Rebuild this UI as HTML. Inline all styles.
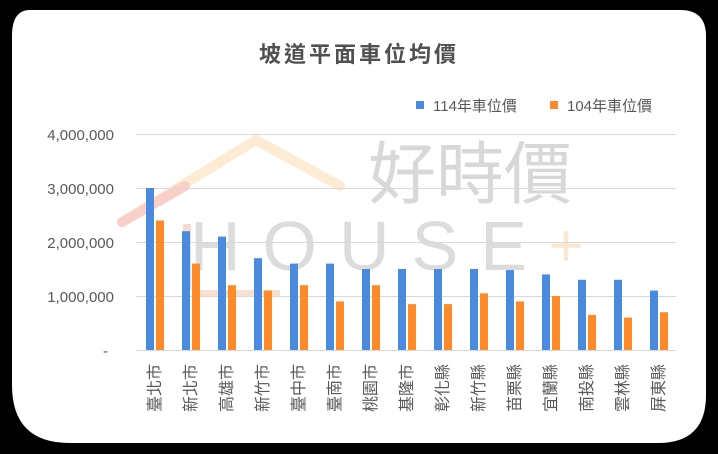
<!DOCTYPE html>
<html><head><meta charset="utf-8"><style>
html,body{margin:0;padding:0;background:#000;width:718px;height:454px;overflow:hidden}
svg text{font-family:"Liberation Sans","Noto Sans CJK TC",sans-serif}
</style></head><body>
<svg width="718" height="454" xmlns="http://www.w3.org/2000/svg">
<rect x="0" y="0" width="718" height="454" fill="#000"/>
<path d="M30,10 H680 Q706,10 706,36 V395 Q706,443 658,443 H70 Q12,443 12,385 V36 Q12,10 30,10 Z" fill="#fff"/>
<polyline points="122,222 256,140 340,186" fill="none" stroke="#fde6c8" stroke-width="10" stroke-linecap="round" opacity="0.8"/>
<line x1="122" y1="222" x2="185" y2="186" stroke="#f9d0c8" stroke-width="10" stroke-linecap="round"/>
<line x1="187" y1="224" x2="187" y2="290" stroke="#f9d8d0" stroke-width="8"/>
<line x1="195" y1="293" x2="280" y2="293" stroke="#f9e0d0" stroke-width="6"/>
<text x="470" y="198" font-size="68" fill="#d8d8d8" text-anchor="middle">好時價</text>
<text x="190" y="270" font-size="70" fill="#dcdcdc" letter-spacing="22">HOUSE</text>
<text x="566" y="266" font-size="60" fill="#fbe6cf" text-anchor="middle">+</text>
<text x="359" y="62" font-size="22" fill="#505050" text-anchor="middle" letter-spacing="3" font-weight="bold">坡道平面車位均價</text>
<rect x="416" y="101" width="8" height="8" fill="#4a8be0"/>
<text x="433" y="111" font-size="15" fill="#595959">114年車位價</text>
<rect x="550" y="101" width="8" height="8" fill="#fd8b2a"/>
<text x="567" y="111" font-size="15" fill="#595959">104年車位價</text>
<g stroke="#d9d9d9" stroke-width="1">
<line x1="136" y1="134.5" x2="676" y2="134.5"/>
<line x1="136" y1="188.5" x2="676" y2="188.5"/>
<line x1="136" y1="242.5" x2="676" y2="242.5"/>
<line x1="136" y1="296.5" x2="676" y2="296.5"/>
<line x1="136" y1="350.5" x2="676" y2="350.5"/>
</g>
<g font-size="15" fill="#595959" text-anchor="end">
<text x="114" y="140">4,000,000</text>
<text x="114" y="194">3,000,000</text>
<text x="114" y="248">2,000,000</text>
<text x="114" y="302">1,000,000</text>
<text x="108" y="356">-</text>
</g>
<g id="bars"></g>
<g id="labels" font-size="16" fill="#595959"></g>
</svg>
<script>
var b=[3.0,2.2,2.1,1.7,1.6,1.6,1.5,1.5,1.5,1.5,1.48,1.4,1.3,1.3,1.1];
var o=[2.4,1.6,1.2,1.1,1.2,0.9,1.2,0.85,0.85,1.05,0.9,1.0,0.65,0.6,0.7];
var n=["臺北市","新北市","高雄市","新竹市","臺中市","臺南市","桃園市","基隆市","彰化縣","新竹縣","苗栗縣","宜蘭縣","南投縣","雲林縣","屏東縣"];
var ns="http://www.w3.org/2000/svg",g=document.getElementById("bars"),L=document.getElementById("labels");
for(var i=0;i<15;i++){
 var c=136+36*i+18;
 var r=document.createElementNS(ns,"rect");r.setAttribute("x",c-8);r.setAttribute("width",8);r.setAttribute("y",350-b[i]*54);r.setAttribute("height",b[i]*54);r.setAttribute("fill","#4a8be0");g.appendChild(r);
 r=document.createElementNS(ns,"rect");r.setAttribute("x",c+2);r.setAttribute("width",8);r.setAttribute("y",350-o[i]*54);r.setAttribute("height",o[i]*54);r.setAttribute("fill","#fd8b2a");g.appendChild(r);
 var t=document.createElementNS(ns,"text");var x=c+6,y=364;
 t.setAttribute("x",x);t.setAttribute("y",y);t.setAttribute("text-anchor","end");
 t.setAttribute("transform","rotate(-90 "+x+" "+y+")");t.textContent=n[i];L.appendChild(t);
}
</script>
</body></html>
